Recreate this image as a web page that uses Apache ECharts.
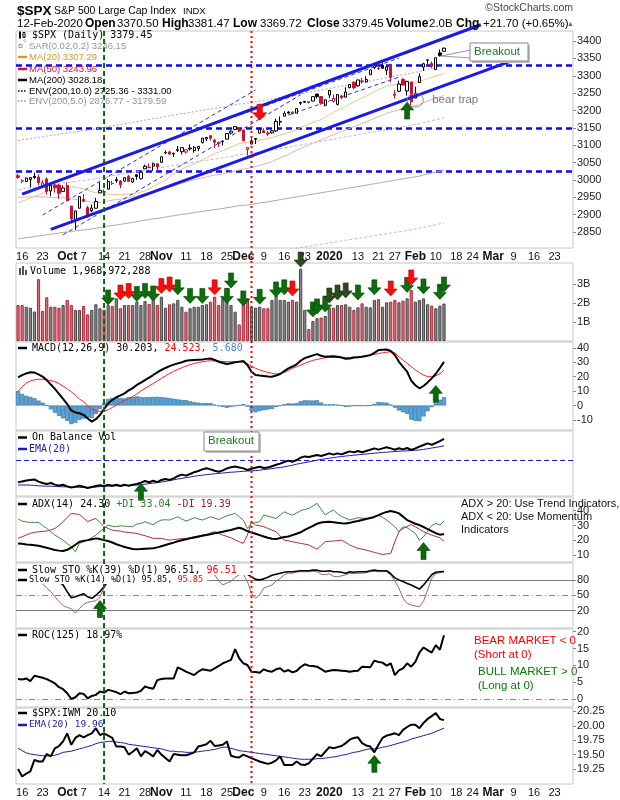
<!DOCTYPE html>
<html><head><meta charset="utf-8">
<script src="https://cdn.jsdelivr.net/npm/echarts@6/dist/echarts.min.js"></script>
<style>html,body{margin:0;padding:0;background:#fff}#c{width:620px;height:800px}</style>
</head><body><div id="c"></div>
<script>
// ---------- categories (trading days) ----------
const dates = ['9/13','9/16','9/17','9/18','9/19','9/20','9/23','9/24','9/25','9/26','9/27','9/30',
'10/1','10/2','10/3','10/4','10/7','10/8','10/9','10/10','10/11','10/14','10/15','10/16','10/17','10/18','10/21','10/22','10/23','10/24','10/25','10/28','10/29','10/30','10/31',
'11/1','11/4','11/5','11/6','11/7','11/8','11/11','11/12','11/13','11/14','11/15','11/18','11/19','11/20','11/21','11/22','11/25','11/26','11/27','11/29',
'12/2','12/3','12/4','12/5','12/6','12/9','12/10','12/11','12/12','12/13','12/16','12/17','12/18','12/19','12/20','12/23','12/24','12/26','12/27','12/30','12/31',
'1/2','1/3','1/6','1/7','1/8','1/9','1/10','1/13','1/14','1/15','1/16','1/17','1/21','1/22','1/23','1/24','1/27','1/28','1/29','1/30','1/31',
'2/3','2/4','2/5','2/6','2/7','2/10','2/11','2/12',
'2/13','2/14','2/18','2/19','2/20','2/21','2/24','2/25','2/26','2/27','2/28',
'3/2','3/3','3/4','3/5','3/6','3/9','3/10','3/11','3/12','3/13','3/16','3/17','3/18','3/19','3/20','3/23','3/24','3/25','3/26','3/27'];
const xTicks = [['9/16','16'],['9/23','23'],['10/1','Oct'],['10/7','7'],['10/14','14'],['10/21','21'],['10/28','28'],['11/1','Nov'],['11/11','11'],['11/18','18'],['11/25','25'],['12/2','Dec'],['12/9','9'],['12/16','16'],['12/23','23'],['1/2','2020'],['1/13','13'],['1/21','21'],['1/27','27'],['2/3','Feb'],['2/10','10'],['2/18','18'],['2/24','24'],['3/2','Mar'],['3/9','9'],['3/16','16'],['3/23','23']];
const boldTicks = ['Oct','Nov','Dec','2020','Feb','Mar'];

// ---------- price ----------
const prevClose = 3009.57;
const open = [3012.21,2996.41,2995.67,3001.50,3010.36,3008.42,2983.50,3002.43,2968.35,2985.73,2985.47,2967.07,
2983.69,2924.78,2885.38,2918.56,2944.23,2920.40,2911.10,2918.55,2963.07,2965.81,2973.61,2989.68,3000.77,2996.84,2996.48,3010.73,2994.01,3014.78,3003.32,3032.12,3035.39,3039.74,3046.90,
3050.72,3078.96,3080.80,3075.10,3087.02,3081.25,3080.33,3089.28,3084.18,3090.75,3107.92,3117.91,3127.45,3114.66,3108.49,3111.41,3117.44,3134.85,3145.49,3147.18,
3143.85,3087.41,3103.50,3119.21,3134.62,3141.86,3135.36,3135.75,3141.23,3166.65,3183.63,3195.40,3195.21,3192.32,3223.33,3226.05,3225.45,3227.20,3247.23,3240.09,3215.18,
3244.67,3226.36,3217.55,3241.86,3238.59,3266.03,3281.81,3271.13,3285.35,3282.27,3302.97,3323.66,3321.03,3330.02,3315.77,3333.10,3247.16,3255.35,3289.46,3256.45,3282.33,
3235.66,3280.61,3324.91,3344.92,3335.54,3318.28,3365.87,3370.50];
const high = [3017.33,3002.19,3006.21,3007.83,3021.19,3016.37,2999.15,3007.98,2989.82,2987.28,2987.31,2983.85,
2992.53,2924.78,2911.13,2953.74,2959.75,2925.47,2929.32,2948.46,2993.28,2972.84,3003.28,2997.54,3008.29,3000.00,3007.33,3014.57,3004.78,3016.07,3027.39,3044.08,3047.87,3050.10,3046.90,
3066.95,3085.20,3083.95,3078.34,3097.77,3093.09,3088.33,3102.61,3098.06,3098.20,3120.46,3124.17,3127.64,3118.97,3110.11,3112.87,3133.83,3142.69,3154.26,3150.30,
3144.31,3094.97,3119.38,3119.45,3150.60,3148.87,3142.12,3143.98,3176.28,3182.68,3197.71,3198.22,3198.48,3205.48,3225.65,3227.78,3226.43,3240.08,3247.93,3240.92,3231.72,
3258.14,3246.15,3246.84,3244.91,3267.07,3275.58,3282.99,3288.13,3294.25,3298.66,3317.11,3329.88,3329.79,3337.77,3326.88,3333.18,3258.85,3285.78,3293.47,3285.91,3282.33,
3268.44,3306.92,3337.58,3347.96,3341.42,3352.26,3375.63,3381.47];
const low = [3002.90,2990.67,2993.73,2978.57,3003.16,2984.68,2982.23,2957.73,2952.86,2963.71,2945.53,2967.07,
2938.70,2874.93,2855.94,2918.56,2935.68,2892.66,2907.41,2917.12,2963.07,2962.94,2973.61,2985.20,2991.79,2976.31,2995.35,2995.04,2991.21,3000.42,3001.94,3032.12,3034.81,3025.96,3023.19,
3050.72,3074.87,3072.15,3065.89,3080.23,3073.58,3075.82,3084.73,3078.80,3083.26,3104.60,3112.06,3113.47,3091.41,3094.55,3099.26,3117.44,3131.00,3143.41,3139.34,
3110.78,3070.33,3102.53,3103.76,3134.62,3135.46,3126.09,3133.21,3138.47,3156.51,3183.63,3191.03,3191.14,3192.32,3216.03,3222.30,3220.51,3227.20,3234.37,3216.57,3212.03,
3235.53,3222.34,3214.64,3232.43,3236.67,3263.67,3260.86,3268.43,3277.19,3280.69,3302.82,3318.86,3316.61,3320.04,3301.87,3281.53,3234.50,3253.22,3271.89,3242.80,3214.68,
3235.66,3280.61,3313.75,3334.39,3322.12,3317.77,3355.61,3369.72];
const close = [3007.39,2997.96,3005.70,3006.73,3006.79,2992.07,2991.78,2966.60,2984.87,2977.62,2961.79,2976.74,
2940.25,2887.61,2910.63,2952.01,2938.79,2893.06,2919.40,2938.13,2970.27,2966.15,2995.68,2989.69,2997.95,2986.20,3006.72,2995.99,3004.52,3010.29,3022.55,3039.42,3036.89,3046.77,3037.56,
3066.91,3078.27,3074.62,3076.78,3085.18,3093.08,3087.01,3091.84,3094.04,3096.63,3120.46,3122.03,3120.18,3108.46,3103.54,3110.29,3133.64,3140.52,3153.63,3140.98,
3113.87,3093.20,3112.76,3117.43,3145.91,3135.96,3132.52,3141.63,3168.57,3168.80,3191.45,3192.52,3191.14,3205.37,3221.22,3224.01,3223.38,3239.91,3240.02,3221.29,3230.78,
3257.85,3234.85,3246.28,3237.18,3253.05,3274.70,3265.35,3288.13,3283.15,3289.29,3316.81,3329.62,3320.79,3321.75,3325.54,3295.47,3243.63,3276.24,3273.40,3283.66,3225.52,
3248.92,3297.59,3334.69,3345.78,3327.71,3352.09,3357.75,3379.45];
const ma20 = [2933.4,2938.9,2943.0,2948.3,2952.4,2955.9,2963.1,2967.6,2973.4,2977.9,2979.7,2982.3,2984.0,2981.5,2978.2,2976.9,2974.9,2970.6,2966.5,2962.9,
2961.1,2959.5,2959.0,2958.1,2957.7,2957.4,2958.1,2959.6,2960.6,2962.2,2965.2,2968.3,2973.2,2981.1,2987.5,2993.2,3000.2,3009.3,3017.2,3024.5,
3030.7,3036.7,3041.5,3046.7,3051.7,3058.4,3064.1,3070.3,3075.5,3080.2,3084.5,3089.3,3094.5,3099.8,3105.0,3107.3,3108.1,3110.0,3112.0,3115.0,
3117.2,3119.5,3122.0,3125.7,3129.3,3132.9,3136.4,3140.0,3144.8,3150.7,3156.4,3160.8,3165.8,3170.1,3174.1,3179.9,3188.2,3194.3,3200.7,3205.3,
3211.1,3218.2,3224.4,3230.3,3236.0,3240.9,3247.1,3254.1,3259.9,3264.9,3270.0,3273.6,3273.8,3275.6,3278.2,3280.9,3279.3,3280.0,3282.6,3287.5,
3292.1,3294.8,3299.1,3302.6,3307.3];
const ma50 = [2950.0,2950.1,2950.7,2951.3,2951.5,2951.4,2950.9,2950.0,2949.6,2949.5,2948.8,2948.8,2947.9,2945.6,2943.4,2942.4,2940.6,2938.1,2936.2,2935.4,
2935.7,2936.4,2939.4,2941.5,2943.8,2944.8,2946.5,2948.8,2950.4,2953.8,2957.3,2960.3,2962.5,2965.4,2967.7,2970.6,2975.2,2979.2,2983.3,2987.3,
2990.6,2993.8,2997.6,3000.7,3003.1,3005.9,3008.8,3011.6,3013.8,3015.6,3017.7,3020.4,3023.1,3026.1,3028.7,3031.2,3033.2,3036.1,3038.8,3042.1,
3045.6,3048.7,3052.8,3058.4,3063.5,3068.3,3073.4,3079.4,3085.1,3090.7,3095.8,3101.0,3105.8,3110.8,3115.3,3120.2,3125.2,3130.0,3134.8,3139.4,
3144.0,3148.7,3153.2,3158.1,3163.0,3167.4,3172.2,3177.3,3182.2,3186.9,3191.6,3195.7,3198.8,3202.4,3205.9,3209.2,3211.3,3213.9,3217.7,3222.3,
3227.0,3230.9,3235.1,3239.2,3243.96];
const ma200 = [2830,2832,2834,2835,2837,2839,2840,2842,2844,2845,2847,2849,2850,2851,2853,2855,2856,2857,2859,2861,
2863,2865,2867,2869,2870,2872,2874,2876,2878,2880,2882,2884,2886,2888,2889,2891,2893,2895,2897,2899,
2901,2902,2904,2906,2908,2910,2911,2913,2915,2916,2918,2920,2922,2924,2926,2927,2928,2930,2932,2934,
2935,2937,2939,2941,2943,2945,2947,2949,2951,2953,2955,2957,2959,2961,2963,2965,2967,2969,2971,2973,
2975,2977,2979,2981,2983,2985,2987,2989,2991,2993,2995,2997,2999,3001,3003,3005,3007,3009,3011,3014,
3017,3020,3022,3025,3028.18];
const envPct = [0.10, 0.05];   // ENV(200,10.0), ENV(200,5.0)
const hLevels = [3331, 3150, 3026];
const channelThick = [[[1,2959],[113,3447]], [[8,2857.5],[120,3341]]];
const channelThin = [[[6,2899],[58,3259]], [[11,2842],[69,3245]], [[54,3187],[93,3351]], [[66,3187],[93,3296]]];
const highLabels = [['10/1',2992.53],['11/27',3154.26],['1/2',3258.14],['1/22',3337.77]];
const lowLabels = [['9/18',2978.57],['10/3',2855.94],['12/3',3070.33],['1/6',3214.64],['1/31',3214.68]];
const priceDownArrows = [[59,3195]];
const priceUpArrows = [[95,3200]];
const bearTrap = [96, 3230];

// ---------- volume (billions) ----------
const volume = [1.89,1.89,1.80,1.75,1.55,3.25,1.58,2.30,1.80,1.80,
1.75,1.89,2.16,1.89,1.63,1.63,1.84,1.40,1.63,1.93,
1.72,1.65,1.89,1.84,2.24,1.72,1.89,1.89,1.89,2.07,
1.89,2.10,1.95,2.33,1.90,2.33,1.75,1.93,1.98,2.16,
1.80,1.54,1.72,1.80,1.80,1.89,1.93,2.07,2.33,1.89,
2.25,2.78,1.89,1.54,0.87,1.93,2.24,1.80,1.75,1.80,
1.72,1.72,2.16,2.41,2.16,2.16,2.07,2.16,2.07,3.80,
1.63,0.63,1.05,1.20,1.23,1.32,1.75,1.75,1.89,1.89,
1.93,1.80,1.63,1.77,1.98,1.80,1.77,2.16,2.20,1.80,
2.03,2.07,2.16,2.03,2.12,2.24,2.68,2.07,2.16,2.24,
1.93,1.86,1.72,1.86,1.97];
const volGreenArrows = [[22,2.29],[29,2.47],[31,2.63],[33,2.5],[39,2.82],[42,2.37],[45,2.37],[51,2.37],[52,3.18],[55,2.24],[59,2.32],[63,2.71],[65,2.82],[72,1.66],[73,1.82],[75,1.92],[83,2.55],[87,2.82],[95,2.95],[99,2.87],[103,2.58],[104,2.97]];
const volDarkArrows = [[69,4.28],[76,2.39],[78,2.55],[80,2.66]];
const volRedArrows = [[25,2.55],[27,2.63],[35,2.89],[37,2.97],[48,2.82],[67,2.76],[91,2.76],[96,3.34]];

// ---------- MACD ----------
const macd = [19.5,21.0,22.2,23.0,22.8,21.6,20.0,17.6,14.5,11.5,
8.0,4.5,1.0,-3.5,-4.8,-5.4,-6.5,-9.0,-11.2,-9.5,
-6.6,-2.5,1.5,3.8,5.7,7.0,8.4,10.5,12.0,14.2,
15.8,17.6,19.3,21.1,23.0,24.6,26.0,27.3,28.3,29.2,
30.0,31.0,31.3,31.5,31.7,31.9,32.3,32.6,31.5,30.3,
29.5,28.7,29.3,29.9,30.4,30.8,28.0,23.4,21.1,20.7,
20.4,20.1,19.9,20.8,21.8,23.8,25.7,27.0,28.5,31.0,
32.8,33.8,34.7,35.6,34.5,33.8,34.0,34.2,33.8,33.3,
32.3,32.6,33.3,33.5,33.8,34.3,34.9,36.5,38.4,38.6,
38.8,37.8,35.0,30.3,26.8,23.4,17.2,14.0,11.9,13.5,
16.0,18.8,22.0,26.0,30.203];
const signal = [9.6,13.0,15.5,17.0,17.8,18.2,18.1,17.6,17.2,16.5,
15.2,13.4,11.6,9.4,7.2,4.5,2.6,-0.5,-2.5,-3.6,
-4.1,-4.0,-3.0,-1.4,0.2,2.0,3.5,4.8,6.2,7.9,
10.0,11.9,13.5,15.2,17.0,18.8,20.5,22.2,23.7,25.0,
26.2,27.3,28.3,29.1,29.8,30.3,30.7,31.0,30.9,30.8,
30.5,30.3,30.3,30.3,30.2,29.9,28.8,27.2,25.8,24.6,
23.7,22.9,22.3,21.8,22.0,23.0,24.3,25.7,26.9,28.0,
29.2,30.3,31.3,31.9,32.5,33.1,33.3,33.3,33.3,33.3,
33.3,33.3,33.5,33.8,34.1,34.5,35.0,35.4,36.0,36.5,
36.9,37.2,36.5,33.8,31.5,29.2,27.0,24.6,22.8,21.1,
20.0,19.9,20.5,22.0,24.523];
const macdUpArrows = [[102,8]];

// ---------- OBV (billions, relative) ----------
const obv = [1.8,2.3,2.7,3.0,3.3,2.2,1.5,1.0,1.5,0.7,
0.2,0.6,-0.2,-0.8,-0.3,0.2,-0.4,-1.0,-0.5,0.0,
0.4,0.0,0.6,0.1,0.6,0.0,0.6,0.1,0.6,1.0,
1.7,2.5,1.9,2.6,1.9,3.0,3.5,3.0,3.8,5.0,
5.7,5.2,6.0,6.9,7.5,8.3,8.9,8.3,7.6,7.1,
7.8,8.8,9.4,9.7,9.3,8.8,8.0,8.6,9.1,9.6,
9.0,9.2,9.9,10.6,11.2,12.0,12.7,12.1,13.0,14.2,
14.8,14.5,15.0,15.5,15.0,15.6,16.3,15.7,16.3,15.8,
16.6,17.3,16.8,17.5,16.9,17.5,18.1,18.8,18.2,18.8,
19.4,18.8,18.1,18.9,18.3,19.0,18.0,18.8,19.7,20.5,
21.3,20.6,21.5,22.4,23.6];
const obvEma = [0.5,0.5,0.5,0.4,0.3,0.1,0.0,-0.1,-0.1,-0.2,
-0.3,-0.4,-0.4,-0.5,-0.6,-0.7,-0.7,-0.7,-0.6,-0.5,
-0.3,-0.2,-0.1,0.0,0.1,0.2,0.2,0.3,0.4,0.5,
0.7,0.9,1.2,1.4,1.7,2.0,2.3,2.7,3.1,3.5,
3.8,4.2,4.5,4.9,5.2,5.4,5.7,5.9,6.1,6.3,
6.5,6.7,6.9,7.0,7.2,7.3,7.5,7.6,7.7,7.9,
8.2,8.4,8.7,9.0,9.2,9.6,10.0,10.4,10.9,11.3,
11.7,12.1,12.5,12.9,13.3,13.6,13.9,14.2,14.5,14.7,
15.0,15.2,15.4,15.6,15.8,16.0,16.2,16.4,16.6,16.8,
16.9,17.1,17.2,17.4,17.5,17.6,17.7,17.9,18.0,18.3,
18.6,19.0,19.3,19.7,20.1];
const obvLevel = 13;
const obvUpArrows = [[30,-2.9]];

// ---------- ADX ----------
const adx = [17.9,17.6,17.2,16.9,16.6,16.3,15.6,14.9,14.2,13.4,
13.0,12.7,13.6,15.0,17.0,19.0,19.6,20.1,20.7,21.3,
20.8,20.1,19.5,18.5,17.3,16.4,15.5,14.8,14.1,14.0,
14.1,14.3,14.5,14.6,15.2,16.0,16.8,17.6,18.4,19.3,
20.0,20.7,21.3,21.9,22.4,23.0,23.6,24.1,24.7,25.2,
25.8,26.4,27.0,27.8,28.5,27.6,26.2,25.3,24.4,23.5,
22.6,21.7,21.0,20.8,21.5,22.2,22.6,23.5,24.4,25.4,
27.0,28.4,29.8,31.2,32.0,32.4,32.6,32.2,31.8,31.5,
31.4,31.8,32.5,33.0,33.7,34.4,35.1,35.8,37.0,38.2,
39.2,39.8,39.2,38.2,36.0,33.7,32.5,31.2,30.3,29.0,
27.6,26.2,24.8,23.8,24.30];
const plusDI = [34.4,33.0,32.4,32.1,32.1,32.1,30.0,28.0,25.8,23.5,
21.8,20.1,17.8,15.6,12.2,17.9,19.0,20.1,21.8,23.5,
25.8,28.0,30.3,29.5,29.2,29.8,29.6,29.3,29.2,31.0,
31.4,32.6,31.5,30.6,32.5,33.7,33.9,33.7,34.8,35.9,
34.4,33.0,34.0,35.3,34.5,33.7,34.8,35.9,35.0,34.1,
35.3,36.6,37.4,38.2,36.0,33.7,28.0,31.4,32.0,32.6,
37.1,36.3,35.5,34.8,37.0,39.3,38.0,37.0,38.5,40.0,
40.8,41.6,43.3,45.0,41.0,37.1,39.0,40.5,38.0,36.0,
35.0,33.7,34.5,35.3,35.0,34.8,34.8,35.8,37.1,35.5,
33.7,31.5,29.2,25.8,29.2,28.5,26.5,24.7,20.1,22.4,
26.0,30.0,31.4,30.3,33.04];
const minusDI = [21.3,22.4,23.5,24.7,25.3,25.8,26.0,26.2,27.0,28.0,
30.0,32.6,35.5,38.2,37.8,37.5,35.0,32.6,33.8,34.8,
32.0,29.2,28.0,26.9,26.5,26.2,25.6,25.3,25.0,24.7,
23.8,23.1,22.2,21.3,21.3,21.3,20.6,20.1,20.5,20.8,
21.1,21.3,21.8,22.4,23.0,23.5,24.0,24.9,25.8,24.6,
23.5,22.6,21.7,20.3,19.0,17.9,23.5,32.6,30.3,29.8,
29.2,28.0,26.9,25.8,22.9,20.1,19.6,19.0,18.5,17.9,
17.4,16.8,15.4,14.0,16.5,19.0,19.3,19.5,19.8,20.1,
18.5,16.8,15.6,14.5,14.0,13.4,12.6,11.8,11.1,10.4,
10.8,11.1,19.0,25.8,28.0,29.4,30.7,29.2,27.5,25.8,
24.6,23.5,22.6,21.7,19.39];
const adxUpArrows = [[99,12.7]];

// ---------- Slow stochastics ----------
const sto39 = [88,86,88,89,89,85,85,78,82,80,
76,70,57,45,47,50,53,47,44,50,
57,67,78,78,80,79,83,81,83,85,
87,90,90,91,90,94,95,94,94,95,
96,95,96,96,96,98,98,97,95,94,
95,97,98,99,97,94,91,86,81,80,
82,85,89,91,93,95,96,96,97,98,
98,98,99,99,97,97,98,96,96,95,
93,96,95,96,96,96,98,99,98,98,
98,92,84,80,77,73,70,66,62,70,
80,90,95,96,96.51];
const sto14 = [88,84,86,88,88,82,72,64,57,47,
38,30,26,24,15,24,32,36,38,39,
47,64,78,80,84,82,88,86,90,92,
94,97,96,97,94,96,97,95,95,96,
97,93,94,95,96,98,97,93,90,78,
70,74,77,85,90,91,77,54,44,51,
64,67,70,78,83,90,93,93,95,96,
96,96,97,96,91,90,92,87,86,88,
90,93,92,93,93,94,96,97,96,96,
96,90,78,64,44,34,31,29,28,38,
60,83,92,94,95.85];
const stoLevels = [80, 50, 20];
const stoUpArrows = [[20,23]];

// ---------- ROC(125) ----------
const roc = [5.9,5.8,6.1,5.3,6.9,6.6,6.3,5.9,5.3,4.6,
3.5,2.9,1.7,0.0,0.5,1.7,1.5,0.2,0.9,1.2,
2.2,1.9,2.7,2.4,2.0,1.4,2.2,1.7,1.8,1.9,
2.4,3.7,3.3,3.0,5.6,5.9,6.1,6.1,6.1,9.4,
8.8,8.1,7.6,7.1,8.1,8.8,8.6,8.4,9.1,9.8,
10.6,11.1,11.6,14.8,12.1,10.6,10.1,8.1,8.0,7.8,
8.8,8.3,8.1,8.8,9.1,8.1,8.6,7.9,8.3,9.5,
10.3,9.9,9.8,9.6,8.9,8.1,8.4,8.6,8.5,8.4,
8.3,8.1,8.3,8.4,9.6,9.5,9.4,11.4,11.0,10.8,
9.9,10.6,7.1,8.5,9.1,10.6,9.6,11.0,13.8,15.3,
14.5,13.8,16.0,14.6,18.97];

// ---------- $SPX:IWM ----------
const ratio = [19.25,19.12,19.17,19.21,19.41,19.38,19.38,19.51,19.47,19.61,
19.65,19.73,19.87,19.67,19.79,19.84,19.80,19.84,19.87,19.96,
19.84,19.87,19.83,19.79,19.64,19.64,19.63,19.50,19.55,19.61,
19.47,19.56,19.52,19.47,19.58,19.50,19.44,19.38,19.51,19.50,
19.49,19.49,19.51,19.54,19.64,19.66,19.68,19.74,19.65,19.66,
19.67,19.73,19.48,19.46,19.45,19.50,19.47,19.44,19.41,19.38,
19.36,19.34,19.36,19.40,19.47,19.32,19.32,19.32,19.38,19.33,
19.32,19.35,19.43,19.51,19.47,19.55,19.63,19.61,19.63,19.65,
19.70,19.76,19.79,19.80,19.70,19.66,19.64,19.54,19.67,19.79,
19.83,19.85,19.87,19.84,19.93,19.98,20.02,20.02,19.96,20.05,
20.12,20.17,20.22,20.12,20.10];
const ratioEma = [19.61,19.57,19.53,19.51,19.50,19.49,19.48,19.48,19.48,19.49,
19.51,19.54,19.55,19.56,19.58,19.60,19.62,19.64,19.66,19.69,
19.71,19.72,19.73,19.73,19.72,19.71,19.70,19.68,19.67,19.66,
19.65,19.64,19.63,19.62,19.61,19.60,19.58,19.56,19.56,19.55,
19.55,19.54,19.54,19.54,19.55,19.56,19.57,19.58,19.59,19.61,
19.63,19.63,19.61,19.59,19.57,19.56,19.55,19.54,19.53,19.52,
19.51,19.50,19.49,19.48,19.47,19.46,19.45,19.44,19.43,19.42,
19.42,19.42,19.42,19.43,19.43,19.44,19.45,19.46,19.47,19.49,
19.50,19.52,19.54,19.55,19.57,19.59,19.60,19.60,19.61,19.63,
19.64,19.66,19.68,19.70,19.72,19.74,19.77,19.79,19.81,19.83,
19.85,19.87,19.90,19.93,19.96];
const ratioUpArrows = [[87,19.34]];

// vertical event lines (category index)
const greenEventIdx = 21, redEventIdx = 57;

// ================= chart =================
const chart = echarts.init(document.getElementById('c'), null, {renderer:'canvas', width:620, height:800});
const SANS = 'Liberation Sans, Arial, sans-serif';
const MONO = 'DejaVu Sans Mono, monospace';
const RED = '#cc1133';
const panels = [[31,217],[263,78],[342,88],[431,65],[497,65],[563,65],[629,78],[708,76]];
const grid = panels.map(p => ({left:16, right:47, top:p[0], height:p[1], show:true, borderColor:'#c6c6c6', borderWidth:1, backgroundColor:'#fff', containLabel:false}));
const tickMap = new Map(xTicks);
const xAxis = panels.map((p,i) => ({
  type:'category', gridIndex:i, data:dates, boundaryGap:true,
  axisLine:{show:false}, axisTick:{show:false}, splitLine:{show:false},
  axisLabel:{show:(i===0||i===7), interval:(idx,val)=>tickMap.has(val), margin:3,
    formatter:(val)=>{const t=tickMap.get(val)||''; return boldTicks.indexOf(t)>=0?('{b|'+t+'}'):t;},
    fontSize:11, color:'#111', fontFamily:SANS,
    rich:{b:{fontWeight:'bold', fontSize:12, color:'#111', fontFamily:SANS}}}
}));
function yax(i, min, max, vals, fmt){
  return {type:'value', gridIndex:i, position:'right', min:min, max:max, splitLine:{show:false}, axisLine:{show:false},
    axisTick:{show:!!vals, customValues:vals||[], length:3, lineStyle:{color:'#888'}},
    axisLabel:{show:!!vals, customValues:vals||[], formatter:fmt||(v=>String(v)), fontSize:11, color:'#222', fontFamily:SANS, margin:4}};
}
const yAxis = [
  yax(0, 2804, 3429, [2850,2900,2950,3000,3050,3100,3150,3200,3250,3300,3350,3400]),
  yax(1, 0, 4.1, [1,2,3], v=>v+'B'),
  yax(2, -17, 44, [-10,0,10,20,30,40]),
  yax(3, -5, 27.5, null),
  yax(4, 5.3, 49.3, [10,20,30,40]),
  yax(5, -14, 113, [20,50,80]),
  yax(6, -2.4, 20.8, [0,5,10,15,20]),
  yax(7, 18.99, 20.31, [19.25,19.5,19.75,20,20.25], v=>v.toFixed(2))
];

const DOWN = 'path://M4,0L9,0L9,8L13,8L6.5,15L0,8L4,8Z';
const UP = 'path://M6.5,0L13,7L9,7L9,15L4,15L4,7L0,7Z';
function arrows(gi, data, up, color, border, size){
  return {type:'scatter', xAxisIndex:gi, yAxisIndex:gi, data:data, symbol:up?UP:DOWN, symbolSize:size||[13,15], symbolKeepAspect:false,
    clip:false, itemStyle:{color:color, borderColor:border, borderWidth:0.6, opacity:1}, z:20, silent:true, animation:false};
}
function ln(gi, data, color, width, extra){
  return Object.assign({type:'line', xAxisIndex:gi, yAxisIndex:gi, data:data, symbol:'none', showSymbol:false,
    lineStyle:{color:color, width:width}, silent:true, animation:false, z:5}, extra||{});
}
function hline(vals, style){
  return {symbol:'none', silent:true, label:{show:false}, animation:false, lineStyle:style, data:vals.map(v=>({yAxis:v}))};
}

const candleData = close.map((c,i)=>{
  const pc = i ? close[i-1] : prevClose;
  const col = c >= pc ? '#000' : RED;
  const fill = c > open[i] ? '#fff' : col;
  return {value:[open[i], c, low[i], high[i]], itemStyle:{color:fill, color0:fill, borderColor:col, borderColor0:col}};
});
const volData = volume.map((v,i)=>{
  const pc = i ? close[i-1] : prevClose;
  const up = close[i] >= pc;
  return {value:v, itemStyle:{color: up?'#8a8a8a':'#d4717b', borderColor: up?'#474747':'#b3263a', borderWidth:1}};
});
const hist = macd.map((m,i)=> +(m - signal[i]).toFixed(3));

const series = [];
// price overlays
series.push(ln(0, ma200.map(v=>v*(1+envPct[0])), '#a6a6a6', 1, {lineStyle:{color:'#a6a6a6', width:1, type:[2,2]}}));
series.push(ln(0, ma200.map(v=>v*(1+envPct[1])), '#b9b9d9', 1, {lineStyle:{color:'#b9b9d9', width:1, type:[3,2]}}));
series.push(ln(0, ma200.map(v=>v*(1-envPct[1])), '#b9b9d9', 1, {lineStyle:{color:'#b9b9d9', width:1, type:[3,2]}}));
series.push(ln(0, ma200, '#ababab', 1));
series.push(ln(0, ma50, '#eab0b4', 1));
series.push(ln(0, ma20, '#ebc48c', 1));
channelThin.forEach(seg => series.push(ln(0, seg, '#2233dd', 1, {lineStyle:{color:'#2233dd', width:1, type:[4,3]}, z:6})));
series.push({type:'candlestick', xAxisIndex:0, yAxisIndex:0, data:candleData, barWidth:'68%', silent:true, animation:false, z:8,
  itemStyle:{borderWidth:1},
  markLine: hline(hLevels, {color:'#0a0aee', width:2.5, type:[6,4]})});
channelThick.forEach(seg => series.push(ln(0, seg, '#1a1ae6', 3, {clip:false, z:9})));
const lblStyle = {show:true, formatter:p=>p.value[1].toFixed(2), fontSize:9.5, fontFamily:SANS, color:'#222',
  backgroundColor:'#fff', borderColor:'#a8a8a8', borderWidth:1, padding:[1,2,0,2]};
series.push({type:'scatter', xAxisIndex:0, yAxisIndex:0, symbolSize:1, itemStyle:{opacity:0}, silent:true, z:15, animation:false,
  data:highLabels, label:Object.assign({position:'top', distance:4}, lblStyle)});
series.push({type:'scatter', xAxisIndex:0, yAxisIndex:0, symbolSize:1, itemStyle:{opacity:0}, silent:true, z:15, animation:false,
  data:lowLabels, label:Object.assign({position:'bottom', distance:5}, lblStyle)});
series.push(arrows(0, priceDownArrows, false, '#ff0a0a', '#b00000', [14,16]));
series.push(arrows(0, priceUpArrows, true, '#0a6b0a', '#043d04', [13,17]));
// volume
series.push({type:'bar', xAxisIndex:1, yAxisIndex:1, data:volData, barWidth:'78%', silent:true, animation:false, z:3});
series.push(arrows(1, volGreenArrows, false, '#0b6e0b', '#053f05'));
series.push(arrows(1, volDarkArrows, false, '#2c4a1e', '#18280f'));
series.push(arrows(1, volRedArrows, false, '#ff0a0a', '#b00000'));
// MACD
series.push({type:'bar', xAxisIndex:2, yAxisIndex:2, data:hist, barWidth:'100%', silent:true, animation:false, z:3,
  itemStyle:{color:'#5ba2d6', borderColor:'#2c6b9c', borderWidth:0.6}});
series.push(ln(2, signal, '#ff2020', 1));
series.push(ln(2, macd, '#000', 2));
series.push(arrows(2, macdUpArrows, true, '#0a6b0a', '#043d04', [13,17]));
// OBV
series.push(ln(3, obvEma, '#1c1cb0', 1, {markLine:hline([obvLevel], {color:'#1a1ad0', width:1.2, type:[5,3]})}));
series.push(ln(3, obv, '#000', 2));
series.push(arrows(3, obvUpArrows, true, '#0a6b0a', '#043d04', [13,17]));
// ADX
series.push(ln(4, minusDI, '#b02848', 1));
series.push(ln(4, plusDI, '#3b8a3b', 1));
series.push(ln(4, adx, '#000', 2));
series.push(arrows(4, adxUpArrows, true, '#0a6b0a', '#043d04', [13,17]));
// STO
series.push(ln(5, sto14, '#a06464', 1, {markLine:{symbol:'none', silent:true, label:{show:false}, animation:false,
  data:[{yAxis:stoLevels[0], lineStyle:{color:'#777', width:1, type:'solid'}},
        {yAxis:stoLevels[1], lineStyle:{color:'#888', width:1, type:[6,3,1,3]}},
        {yAxis:stoLevels[2], lineStyle:{color:'#777', width:1, type:'solid'}}]}}));
series.push(ln(5, sto39, '#000', 1.6));
series.push(arrows(5, stoUpArrows, true, '#0a6b0a', '#043d04', [13,17]));
// ROC
series.push(ln(6, roc, '#000', 2, {markLine:hline([0], {color:'#888', width:1, type:[6,3,1,3]})}));
// SPX:IWM
series.push(ln(7, ratioEma, '#1c1cb0', 1));
series.push(ln(7, ratio, '#000', 2));
series.push(arrows(7, ratioUpArrows, true, '#0a6b0a', '#043d04', [13,17]));

chart.setOption({animation:false, backgroundColor:'#fff', textStyle:{fontFamily:SANS}, grid:grid, xAxis:xAxis, yAxis:yAxis, series:series});

// ================= text / annotations =================
const G = [];
function tx(x, y, text, st){
  return {type:'text', x:x, y:y, z:100, silent:true,
    style:Object.assign({text:text, fill:'#000', fontSize:10, fontFamily:MONO, verticalAlign:'middle', align:'left'}, st||{})};
}
function dash(y, color, dotted){
  return {type:'line', z:100, silent:true, shape:{x1:18, y1:y, x2:27, y2:y},
    style:{stroke:color, lineWidth:dotted?1.5:2.5, lineDash:dotted?[1.5,1.5]:null}};
}
// header
G.push(tx(17, 11, '$SPX', {fontFamily:SANS, fontWeight:'bold', fontSize:13.5}));
G.push(tx(54, 11, 'S&P 500 Large Cap Index', {fontFamily:SANS, fontSize:10.5}));
G.push(tx(183, 11, 'INDX', {fontFamily:SANS, fontSize:9.5}));
G.push(tx(573, 8, '©StockCharts.com', {fontFamily:SANS, fontSize:10.5, fill:'#444', align:'right'}));
const hdr = [[17,'12-Feb-2020',0],[85,'Open',1],[117,'3370.50',0],[162,'High',1],[188,'3381.47',0],[233,'Low',1],[260,'3369.72',0],
  [307,'Close',1],[342,'3379.45',0],[386,'Volume',1],[429,'2.0B',0],[456,'Chg',1],[483,'+21.70 (+0.65%)',0]];
hdr.forEach(h => G.push(tx(h[0], 24, h[1], {fontFamily:SANS, fontSize:h[2]?12:11.5, fontWeight:h[2]?'bold':'normal'})));
G.push(tx(567, 24, '▲', {fontFamily:SANS, fontSize:7, fill:'#666'}));
// price legend
G.push({type:'rect', z:100, silent:true, shape:{x:19,y:31.5,width:2,height:7}, style:{fill:'#000'}});
G.push({type:'rect', z:100, silent:true, shape:{x:23,y:32.5,width:2,height:5}, style:{fill:'#fff', stroke:'#000', lineWidth:1}});
G.push(tx(32, 35, '$SPX (Daily) 3379.45', {fontSize:10}));
G.push({type:'rect', z:100, silent:true, shape:{x:19,y:44.5,width:3,height:3}, style:{fill:'#fff', stroke:'#8c9aa5', lineWidth:1}});
G.push(tx(23, 44, '°', {fontFamily:SANS, fontSize:9, fill:'#8c9aa5'}));
G.push(tx(29, 46, 'SAR(0.02,0.2) 3246.15', {fontFamily:SANS, fontSize:9.5, fill:'#8c9aa5'}));
G.push(dash(57, '#d49b2a')); G.push(tx(29, 57.5, 'MA(20) 3307.29', {fontFamily:SANS, fontSize:9.5, fill:'#d49b2a'}));
G.push(dash(69, '#d0103a')); G.push(tx(29, 69, 'MA(50) 3243.96', {fontFamily:SANS, fontSize:9.5, fill:'#d0103a'}));
G.push(dash(80, '#000')); G.push(tx(29, 80, 'MA(200) 3028.18', {fontFamily:SANS, fontSize:9.5}));
G.push(dash(91, '#000', true)); G.push(tx(29, 91, 'ENV(200,10.0) 2725.36 - 3331.00', {fontFamily:SANS, fontSize:9.5}));
G.push(dash(101, '#8a96a0', true)); G.push(tx(29, 101, 'ENV(200,5.0) 2876.77 - 3179.59', {fontFamily:SANS, fontSize:9.5, fill:'#8a96a0'}));
// price breakout callout
G.push({type:'polygon', z:99, silent:true, shape:{points:[[471,50],[441,56],[471,58]]}, style:{fill:'#fff', stroke:'#999', lineWidth:1}});
G.push({type:'rect', z:98, silent:true, shape:{x:472,y:45,width:58,height:18}, style:{fill:'#bbb'}});
G.push({type:'rect', z:99, silent:true, shape:{x:470,y:43,width:58,height:18}, style:{fill:'#fff', stroke:'#888', lineWidth:1}});
G.push(tx(474, 52, 'Breakout', {fontFamily:SANS, fontSize:11.5, fill:'#1a7a1a'}));
// volume legend
G.push({type:'rect', z:100, silent:true, shape:{x:19,y:268,width:2,height:7}, style:{fill:'#555'}});
G.push({type:'rect', z:100, silent:true, shape:{x:22,y:266,width:2,height:9}, style:{fill:'#555'}});
G.push({type:'rect', z:100, silent:true, shape:{x:25,y:270,width:2,height:5}, style:{fill:'#555'}});
G.push(tx(30, 271, 'Volume 1,968,972,288', {fontSize:10}));
// MACD legend
G.push(dash(348, '#000'));
G.push(tx(32, 348, '{a|MACD(12,26,9) 30.203, }{r|24.523, }{b|5.680}', {fontSize:10,
  rich:{a:{fill:'#000',color:'#000',fontSize:10,fontFamily:MONO}, r:{fill:'#ff0000',color:'#ff0000',fontSize:10,fontFamily:MONO}, b:{fill:'#3a8cc8',color:'#3a8cc8',fontSize:10,fontFamily:MONO}}}));
// OBV legend
G.push(dash(437.5, '#000')); G.push(tx(32, 437.5, 'On Balance Vol', {fontSize:10}));
G.push(dash(449, '#1c1cb0')); G.push(tx(29, 449, 'EMA(20)', {fontSize:10, fill:'#1c1cb0'}));
G.push({type:'rect', z:98, silent:true, shape:{x:206,y:434,width:55,height:19}, style:{fill:'#bbb'}});
G.push({type:'rect', z:99, silent:true, shape:{x:204,y:432,width:55,height:19}, style:{fill:'#fff', stroke:'#888', lineWidth:1}});
G.push(tx(208, 441, 'Breakout', {fontFamily:SANS, fontSize:11.5, fill:'#1a7a1a'}));
// ADX legend
G.push(dash(504, '#000'));
G.push(tx(32, 504, '{a|ADX(14) 24.30 }{g|+DI 33.04 }{r|-DI 19.39}', {fontSize:10,
  rich:{a:{fill:'#000',color:'#000',fontSize:10,fontFamily:MONO}, g:{fill:'#2a7a2a',color:'#2a7a2a',fontSize:10,fontFamily:MONO}, r:{fill:'#a01a3a',color:'#a01a3a',fontSize:10,fontFamily:MONO}}}));
G.push(tx(461, 504, 'ADX > 20: Use Trend Indicators,', {fontFamily:SANS, fontSize:11, fill:'#111'}));
G.push(tx(461, 517, 'ADX < 20: Use Momentum', {fontFamily:SANS, fontSize:11, fill:'#111'}));
G.push(tx(461, 530, 'Indicators', {fontFamily:SANS, fontSize:11, fill:'#111'}));
// STO legend (opaque, hides lines beneath like the original)
G.push({type:'rect', z:99, silent:true, shape:{x:17,y:565,width:233,height:10}, style:{fill:'#fff'}});
G.push({type:'rect', z:99, silent:true, shape:{x:17,y:575,width:190,height:9}, style:{fill:'#fff'}});
G.push(dash(570, '#000'));
G.push(tx(32, 570, '{a|Slow STO %K(39) %D(1) 96.51, }{r|96.51}', {fontSize:10,
  rich:{a:{fill:'#000',color:'#000',fontSize:10,fontFamily:MONO}, r:{fill:'#ff0000',color:'#ff0000',fontSize:10,fontFamily:MONO}}}));
G.push(dash(580, '#000'));
G.push(tx(29, 580, '{a|Slow STO %K(14) %D(1) 95.85, }{r|95.85}', {fontSize:8.5,
  rich:{a:{fill:'#000',color:'#000',fontSize:8.5,fontFamily:MONO}, r:{fill:'#ff0000',color:'#ff0000',fontSize:8.5,fontFamily:MONO}}}));
// ROC legend
G.push(dash(635, '#000')); G.push(tx(32, 635, 'ROC(125) 18.97%', {fontSize:10}));
G.push(tx(474, 641, 'BEAR MARKET < 0', {fontFamily:SANS, fontSize:11.5, fill:'#ff0000'}));
G.push(tx(474, 655, '(Short at 0)', {fontFamily:SANS, fontSize:11.5, fill:'#ff0000'}));
G.push(tx(478, 672, 'BULL MARKET > 0', {fontFamily:SANS, fontSize:11.5, fill:'#0a7a0a'}));
G.push(tx(478, 686, '(Long at 0)', {fontFamily:SANS, fontSize:11.5, fill:'#0a7a0a'}));
// SPX:IWM legend
G.push(dash(713, '#000')); G.push(tx(32, 713, '$SPX:IWM 20.10', {fontSize:10}));
G.push(dash(725, '#1c1cb0')); G.push(tx(29, 725, 'EMA(20) 19.96', {fontSize:9.5, fill:'#1c1cb0'}));

// event lines & bear-trap ring placed through the chart's own scales
const gx = chart.convertToPixel({xAxisIndex:0}, greenEventIdx);
const rx = chart.convertToPixel({xAxisIndex:0}, redEventIdx);
G.push({type:'line', z:90, silent:true, shape:{x1:gx, y1:31, x2:gx, y2:784}, style:{stroke:'#0a6b0a', lineWidth:2, lineDash:[5,3]}});
G.push({type:'line', z:90, silent:true, shape:{x1:rx, y1:31, x2:rx, y2:784}, style:{stroke:'#ff0000', lineWidth:2, lineDash:[2,3]}});
const bt = chart.convertToPixel({gridIndex:0}, bearTrap);
G.push({type:'ellipse', z:90, silent:true, shape:{cx:bt[0]+4, cy:bt[1], rx:8, ry:7}, style:{fill:null, stroke:'#8a8a8a', lineWidth:1}});
G.push(tx(bt[0]+21, bt[1], 'bear trap', {fontFamily:SANS, fontSize:11.5, fill:'#777'}));

chart.setOption({graphic:{elements:G}});
</script>
</body></html>
